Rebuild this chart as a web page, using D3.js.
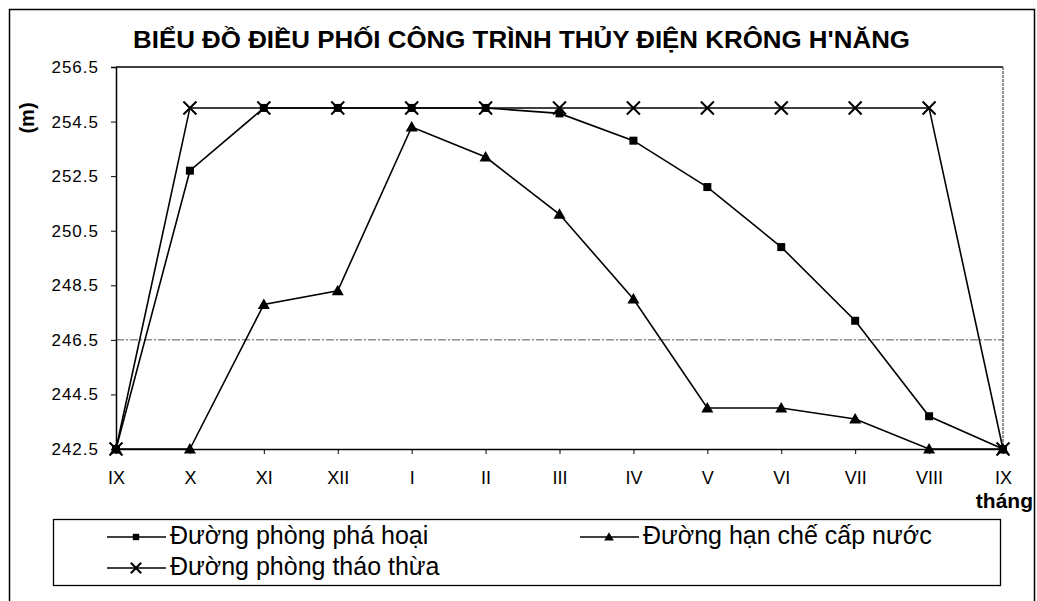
<!DOCTYPE html>
<html>
<head>
<meta charset="utf-8">
<script src="https://cdn.jsdelivr.net/npm/d3@7"></script>
<style>
  body { margin: 0; background: #fff; }
  svg text { font-family: "Liberation Sans", Arial, sans-serif; fill: #000; }
</style>
</head>
<body>
<div id="chart"></div>
<script>
// dữ liệu
const months = ["IX", "X", "XI", "XII", "I", "II", "III", "IV", "V", "VI", "VII", "VIII", "IX"];
const phongPhaHoai = [242.5, 252.7, 255.0, 255.0, 255.0, 255.0, 254.8, 253.8, 252.1, 249.9, 247.2, 243.7, 242.5];
const hanCheCapNuoc = [242.5, 242.5, 247.8, 248.3, 254.3, 253.2, 251.1, 248.0, 244.0, 244.0, 243.6, 242.5, 242.5];
const phongThaoThua = [242.5, 255.0, 255.0, 255.0, 255.0, 255.0, 255.0, 255.0, 255.0, 255.0, 255.0, 255.0, 242.5];
const yTicks = [242.5, 244.5, 246.5, 248.5, 250.5, 252.5, 254.5, 256.5];
const gridValues = [246.5];

drawChart();

function drawChart() {
    const W = 1037, H = 601;
    const left = 116, right = 1003, top = 67, bottom = 449;

    const svg = d3.select("#chart").append("svg")
        .attr("width", W)
        .attr("height", H);

    // khung ngoài
    svg.append("rect")
        .attr("x", 9.5).attr("y", 9.5)
        .attr("width", 1025).attr("height", 620)
        .attr("fill", "none").attr("stroke", "#000").attr("stroke-width", 1.5);

    const idx = d3.range(months.length);
    const x = d3.scalePoint().domain(idx).range([left, right]);
    const y = d3.scaleLinear().domain([242.5, 256.5]).range([bottom, top]);

    // lưới
    svg.selectAll(".grid")
        .data(gridValues)
        .enter().append("line")
        .attr("x1", left).attr("x2", right)
        .attr("y1", d => y(d)).attr("y2", d => y(d))
        .attr("stroke", "#555").attr("stroke-width", 1)
        .attr("stroke-dasharray", "8,2,2,2");

    // viền vùng vẽ
    svg.append("line")
        .attr("x1", left).attr("x2", right).attr("y1", top).attr("y2", top)
        .attr("stroke", "#000").attr("stroke-width", 1.5);
    svg.append("line")
        .attr("x1", right).attr("x2", right).attr("y1", top).attr("y2", bottom)
        .attr("stroke", "#444").attr("stroke-width", 1.2)
        .attr("stroke-dasharray", "3,1");

    // trục
    const yAxis = d3.axisLeft(y).tickValues(yTicks).tickSize(5).tickFormat(d3.format(".1f"));
    const gy = svg.append("g").attr("transform", `translate(${left},0)`).call(yAxis);
    gy.select(".domain").attr("stroke-width", 1.5);
    gy.selectAll("text").attr("font-size", 17).attr("x", -17).attr("letter-spacing", 1);

    const xAxis = d3.axisBottom(x).tickSize(5).tickFormat(i => months[i]);
    const gx = svg.append("g").attr("transform", `translate(0,${bottom})`).call(xAxis);
    gx.select(".domain").attr("stroke-width", 1.5);
    gx.selectAll("text").attr("font-size", 18).attr("dy", 0).attr("y", 35);

    // các đường
    const series = [
        { name: "Đường phòng phá hoại", values: phongPhaHoai, marker: "square" },
        { name: "Đường hạn chế cấp nước", values: hanCheCapNuoc, marker: "triangle" },
        { name: "Đường phòng tháo thừa", values: phongThaoThua, marker: "cross" }
    ];

    const line = d3.line().x((d, i) => x(i)).y(d => y(d));

    series.forEach(s => {
        svg.append("path")
            .attr("d", line(s.values))
            .attr("fill", "none").attr("stroke", "#000").attr("stroke-width", 1.6);
        s.values.forEach((v, i) => drawMarker(svg, s.marker, x(i), y(v)));
    });

    // tiêu đề
    svg.append("text")
        .attr("x", 133).attr("y", 48)
        .attr("font-size", 23).attr("font-weight", "bold")
        .attr("textLength", 777).attr("lengthAdjust", "spacingAndGlyphs")
        .text("BIỂU ĐỒ ĐIỀU PHỐI CÔNG TRÌNH THỦY ĐIỆN KRÔNG H'NĂNG");

    svg.append("text")
        .attr("transform", "translate(34,118) rotate(-90)")
        .attr("text-anchor", "middle")
        .attr("font-size", 20).attr("font-weight", "bold")
        .text("(m)");

    svg.append("text")
        .attr("x", 1033).attr("y", 508)
        .attr("text-anchor", "end")
        .attr("font-size", 21).attr("font-weight", "bold")
        .text("tháng");

    // chú giải
    svg.append("rect")
        .attr("x", 53.5).attr("y", 519.5).attr("width", 947).attr("height", 66)
        .attr("fill", "#fff").attr("stroke", "#000").attr("stroke-width", 1.3);

    const legendPos = [
        { x: 107, y: 537 },
        { x: 580, y: 537 },
        { x: 107, y: 568 }
    ];
    series.forEach((s, i) => {
        const p = legendPos[i];
        svg.append("line")
            .attr("x1", p.x).attr("x2", p.x + 59).attr("y1", p.y).attr("y2", p.y)
            .attr("stroke", "#000").attr("stroke-width", 1.5);
        drawMarker(svg, s.marker, p.x + 29, p.y, 0.8);
        svg.append("text")
            .attr("x", p.x + 63).attr("y", p.y + 7)
            .attr("font-size", 25)
            .text(s.name);
    });
}

function drawMarker(svg, type, cx, cy, k) {
    k = k || 1;
    if (type === "square") {
        const s = 8 * k;
        svg.append("rect")
            .attr("x", cx - s / 2).attr("y", cy - s / 2)
            .attr("width", s).attr("height", s).attr("fill", "#000");
    } else if (type === "triangle") {
        const s = 6 * k;
        svg.append("path")
            .attr("d", `M${cx},${cy - s}L${cx + s},${cy + s * 0.75}L${cx - s},${cy + s * 0.75}Z`)
            .attr("fill", "#000");
    } else {
        const s = 6.5 * k;
        svg.append("path")
            .attr("d", `M${cx - s},${cy - s}L${cx + s},${cy + s}M${cx - s},${cy + s}L${cx + s},${cy - s}`)
            .attr("stroke", "#000").attr("stroke-width", 2);
    }
}
</script>
</body>
</html>
